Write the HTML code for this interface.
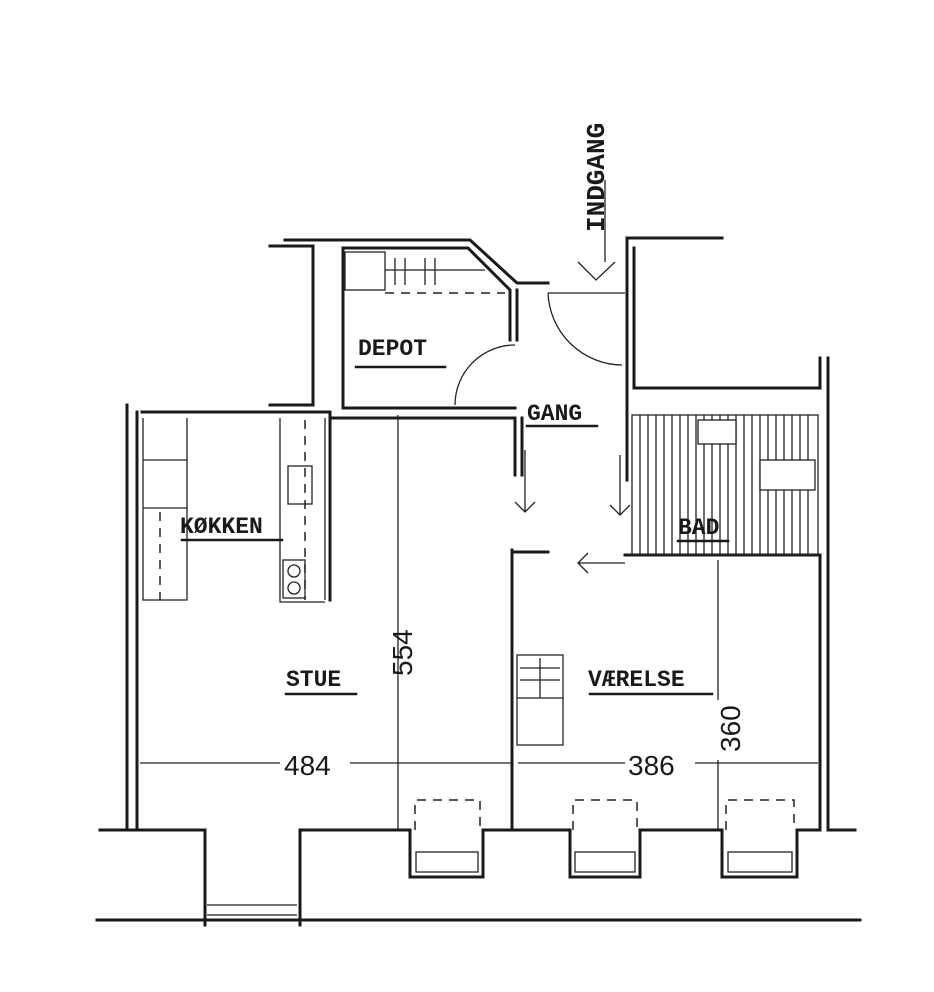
<!DOCTYPE html>
<html><head><meta charset="utf-8"><style>
html,body{margin:0;padding:0;background:#fff}
svg{display:block}
text{font-family:"Liberation Mono",monospace;fill:#1a1a1a}
.w{stroke:#1a1a1a;stroke-width:3;fill:none;stroke-linecap:square}
.t{stroke:#222;stroke-width:1.3;fill:none}
.d{stroke:#222;stroke-width:1.5;fill:none;stroke-dasharray:9 7}
</style></head><body>
<svg width="934" height="992" viewBox="0 0 934 992">
<path class="w" d="M127 405 V830 M137 412 V830 M100 830 H137"/>
<path class="w" d="M137 830 H205 V925 M300 925 V830 H410 V877 H483 V830 H570 V877 H640 V830 H722 V877 H797 V830 H820"/>
<path class="w" d="M97 920 H860"/>
<path class="t" d="M207 905 H297 M207 915 H297"/>
<path class="d" d="M415 830 V800 H480 V830 M573 830 V800 H637 V830 M726 830 V800 H794 V830"/>
<rect class="t" x="416" y="852" width="62" height="20"/>
<rect class="t" x="575" y="852" width="60" height="20"/>
<rect class="t" x="728" y="852" width="64" height="20"/>
<path class="w" d="M142 412 H330 V600 M332 418 H515 V475 M522 418 V475"/>
<path class="t" d="M143 418 V600 H187 V418 M143 460 H187 M143 508 H187 M280 418 V602 H325 M325 418 V600"/>
<path class="d" d="M160 512 V600 M305 420 V600"/>
<rect class="t" x="288" y="466" width="24" height="38"/>
<rect class="t" x="283" y="560" width="22" height="38"/>
<circle class="t" cx="294" cy="571" r="6"/><circle class="t" cx="294" cy="588" r="6"/>
<path class="w" d="M285 240 H470 L517 283 H548 M343 248 V408 H515 M343 248 H468 L510 290 V340 M517 290 V340 M270 246 H313 V405 H270"/>
<rect class="t" x="345" y="252" width="40" height="38"/>
<path class="t" d="M385 270 H485 M395 258 V285 M405 258 V285 M425 258 V285 M435 258 V285"/>
<path class="d" d="M385 293 H505"/>
<path class="t" d="M455 405 A60 60 0 0 1 515 345 M548 293 H625 M548 293 A75 75 0 0 0 622 365"/>
<path class="w" d="M627 238 H722 M627 238 V480 M634 248 V388 H820 V358 M828 358 V830 H855 M820 558 V830"/>
<path class="w" d="M512 550 V830 M512 552 H548 M625 555 H820"/>
<g class="t">
<rect x="632" y="415" width="186" height="140"/>
<path d="M640 415V555M648 415V555M656 415V555M664 415V555M672 415V555M680 415V555M688 415V555M696 415V555M704 415V555M712 415V555M720 415V555M728 415V555M736 415V555M744 415V555M752 415V555M760 415V555M768 415V555M776 415V555M784 415V555M792 415V555M800 415V555M808 415V555"/>
<rect x="698" y="420" width="38" height="24" fill="#fff"/>
<rect x="760" y="460" width="55" height="30" fill="#fff"/>
</g>
<path class="t" d="M525 450 V512 M515 502 L525 512 L535 502 M620 455 V515 M610 505 L620 515 L630 505 M625 563 H578 M588 553 L578 563 L588 573"/>
<rect class="t" x="517" y="655" width="46" height="90"/>
<path class="t" d="M517 698 H563 M520 668 H560 M520 680 H560 M540 658 V698"/>
<path class="t" d="M398 415 V830 M140 763 H280 M350 763 H512 M518 763 H625 M695 763 H818 M718 560 V700 M718 760 V830"/>
<text x="0" y="0" font-size="26" font-weight="bold" transform="translate(604,232) rotate(-90)">INDGANG</text>
<path class="t" d="M605 180 V262 M578 262 L596 280 L615 262"/>
<g font-size="23" font-weight="bold">
<text x="358" y="355">DEPOT</text>
<text x="527" y="420">GANG</text>
<text x="180" y="533">KØKKEN</text>
<text x="678" y="534">BAD</text>
<text x="286" y="686">STUE</text>
<text x="588" y="686">VÆRELSE</text>
</g>
<path class="w" style="stroke-width:2.5" d="M356 367 H445 M527 426 H597 M182 540 H282 M678 541 H728 M286 694 H356 M590 694 H712"/>
<g font-size="28">
<text x="284" y="775" style="font-family:'Liberation Sans Narrow','Liberation Sans',sans-serif">484</text>
<text x="628" y="775" style="font-family:'Liberation Sans Narrow','Liberation Sans',sans-serif">386</text>
<text transform="translate(412,676) rotate(-90)" style="font-family:'Liberation Sans Narrow','Liberation Sans',sans-serif">554</text>
<text transform="translate(740,752) rotate(-90)" style="font-family:'Liberation Sans Narrow','Liberation Sans',sans-serif">360</text>
</g>
</svg>
</body></html>
